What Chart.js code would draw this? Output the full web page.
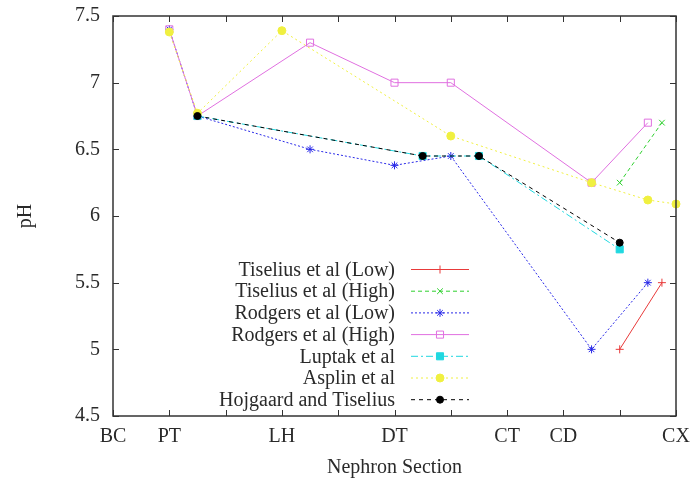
<!DOCTYPE html>
<html>
<head>
<meta charset="utf-8">
<script src="https://cdn.jsdelivr.net/npm/chart.js@4/dist/chart.umd.min.js"></script>
<style>
  html, body { margin: 0; padding: 0; background: #fff; }
  #c { display: block; }
</style>
</head>
<body>
<canvas id="c" width="691" height="485"></canvas>
<script>
// nephron sections on the x axis (position -> name)
const sectionPos = [0, 1, 3, 5, 7, 8, 10];
const sectionNames = ['BC', 'PT', 'LH', 'DT', 'CT', 'CD', 'CX'];

// series, x in section units, y = pH
const tiseliusLowX = [9, 9.75];
const tiseliusLowY = [5.0, 5.5];
const tiseliusHighX = [9, 9.75];
const tiseliusHighY = [6.25, 6.7];
const rodgersLowX = [1, 1.5, 3.5, 5, 6, 8.5, 9.5];
const rodgersLowY = [7.4, 6.75, 6.5, 6.38, 6.45, 5.0, 5.5];
const rodgersHighX = [1, 1.5, 3.5, 5, 6, 8.5, 9.5];
const rodgersHighY = [7.4, 6.75, 7.3, 7.0, 7.0, 6.25, 6.7];
const luptakX = [1.5, 5.5, 6.5, 9];
const luptakY = [6.75, 6.45, 6.45, 5.75];
const asplinX = [1, 1.5, 3, 6, 8.5, 9.5, 10];
const asplinY = [7.38, 6.77, 7.39, 6.6, 6.25, 6.12, 6.09];
const hojgaardX = [1.5, 5.5, 6.5, 9];
const hojgaardY = [6.75, 6.45, 6.45, 5.8];

const FONT = '"Liberation Serif", "DejaVu Serif", serif';
const INK = '#2a2a2a';

function pts(xs, ys) {
  return xs.map((x, i) => ({ x: x, y: ys[i] }));
}

let n = 0;
function series(label, xs, ys, color, dash, style, radius, filled) {
  n++;
  return {
    label: label,
    data: pts(xs, ys),
    order: 10 - n, // later series on top, like gnuplot
    showLine: true,
    borderColor: color,
    borderWidth: 1,
    borderDash: dash,
    pointStyle: style,
    pointRadius: radius,
    pointBorderWidth: 1,
    pointBorderColor: color,
    pointBackgroundColor: filled ? color : 'rgba(0,0,0,0)',
    clip: false,
    tension: 0
  };
}

const datasets = [
  series('Tiselius et al (Low)', tiseliusLowX, tiseliusLowY, '#e83a3a', [], 'cross', 4, false),
  series('Tiselius et al (High)', tiseliusHighX, tiseliusHighY, '#2ed02e', [4, 3], 'crossRot', 4, false),
  series('Rodgers et al (Low)', rodgersLowX, rodgersLowY, '#2828e8', [2, 2], 'star', 4, false),
  series('Rodgers et al (High)', rodgersHighX, rodgersHighY, '#e070e0', [], 'rect', 5, false),
  series('Luptak et al', luptakX, luptakY, '#20d8e0', [7, 3, 2, 3], 'rect', 5, true),
  series('Asplin et al', asplinX, asplinY, '#f0f040', [2, 3], 'circle', 4, true),
  series('Hojgaard and Tiselius', hojgaardX, hojgaardY, '#000000', [4, 4], 'circle', 3.5, true)
];

// gnuplot look: full box, inward mirrored ticks, legend inside with samples on the right
const gnuplotFrame = {
  id: 'gnuplotFrame',
  afterDatasetsDraw(chart) {
    const ctx = chart.ctx;
    const xs = chart.scales.x, ys = chart.scales.y;
    const L = xs.getPixelForValue(0), R = xs.getPixelForValue(10);
    const T = ys.getPixelForValue(7.5), B = ys.getPixelForValue(4.5);
    ctx.save();
    ctx.strokeStyle = '#333';
    ctx.lineWidth = 1.5;
    ctx.setLineDash([]);
    ctx.strokeRect(L, T, R - L, B - T);
    ctx.lineWidth = 1;
    ctx.beginPath();
    for (let v = 0; v <= 10; v++) {
      const px = Math.round(xs.getPixelForValue(v)) + 0.5;
      ctx.moveTo(px, B); ctx.lineTo(px, B - 6);
      ctx.moveTo(px, T); ctx.lineTo(px, T + 6);
    }
    for (let v = 4.5; v <= 7.5; v += 0.5) {
      const py = Math.round(ys.getPixelForValue(v)) + 0.5;
      ctx.moveTo(L, py); ctx.lineTo(L + 6, py);
      ctx.moveTo(R, py); ctx.lineTo(R - 6, py);
    }
    ctx.stroke();

    // legend
    const textRight = 395, lineL = 411, lineR = 469, mid = 440;
    let y = 269.5;
    ctx.font = '20px ' + FONT;
    ctx.textAlign = 'right';
    ctx.textBaseline = 'middle';
    chart.data.datasets.forEach(ds => {
      ctx.fillStyle = INK;
      ctx.fillText(ds.label, textRight, y + 1);
      ctx.strokeStyle = ds.borderColor;
      ctx.lineWidth = 1;
      ctx.setLineDash(ds.borderDash);
      ctx.beginPath();
      ctx.moveTo(lineL, y); ctx.lineTo(lineR, y);
      ctx.stroke();
      ctx.setLineDash([]);
      ctx.fillStyle = ds.pointBackgroundColor;
      ctx.strokeStyle = ds.pointBorderColor;
      Chart.helpers.drawPoint(ctx, {
        pointStyle: ds.pointStyle, radius: ds.pointRadius, rotation: 0, borderWidth: 1
      }, mid, y);
      y += 21.7;
    });
    ctx.restore();
  }
};

new Chart(document.getElementById('c'), {
  type: 'scatter',
  data: { datasets: datasets },
  options: {
    responsive: false,
    animation: false,
    devicePixelRatio: 1,
    layout: { padding: { left: 0, top: 16, right: 15, bottom: 0 } },
    plugins: { legend: { display: false }, tooltip: { enabled: false } },
    scales: {
      x: {
        type: 'linear', min: 0, max: 10,
        grid: { display: false, drawTicks: false },
        border: { display: false },
        ticks: {
          stepSize: 1, autoSkip: false, maxRotation: 0, padding: 9,
          color: INK, font: { family: FONT, size: 20 },
          callback: v => {
            const i = sectionPos.indexOf(v);
            return i >= 0 ? sectionNames[i] : '';
          }
        },
        title: {
          display: true, text: 'Nephron Section', color: INK,
          font: { family: FONT, size: 20 }, padding: { top: 4, bottom: 5 }
        },
        afterFit: s => { s.height = 69; s.paddingLeft = 0; s.paddingRight = 0; }
      },
      y: {
        min: 4.5, max: 7.5,
        grid: { display: false, drawTicks: false },
        border: { display: false },
        ticks: {
          stepSize: 0.5, padding: 13,
          color: INK, font: { family: FONT, size: 20 },
          callback: v => String(+v.toFixed(1))
        },
        title: {
          display: true, text: 'pH', color: INK,
          font: { family: FONT, size: 20 }, padding: { top: 14, bottom: 4 }
        },
        afterFit: s => { s.width = 113; s.paddingTop = 0; s.paddingBottom = 0; }
      }
    }
  },
  plugins: [gnuplotFrame]
});
</script>
</body>
</html>
